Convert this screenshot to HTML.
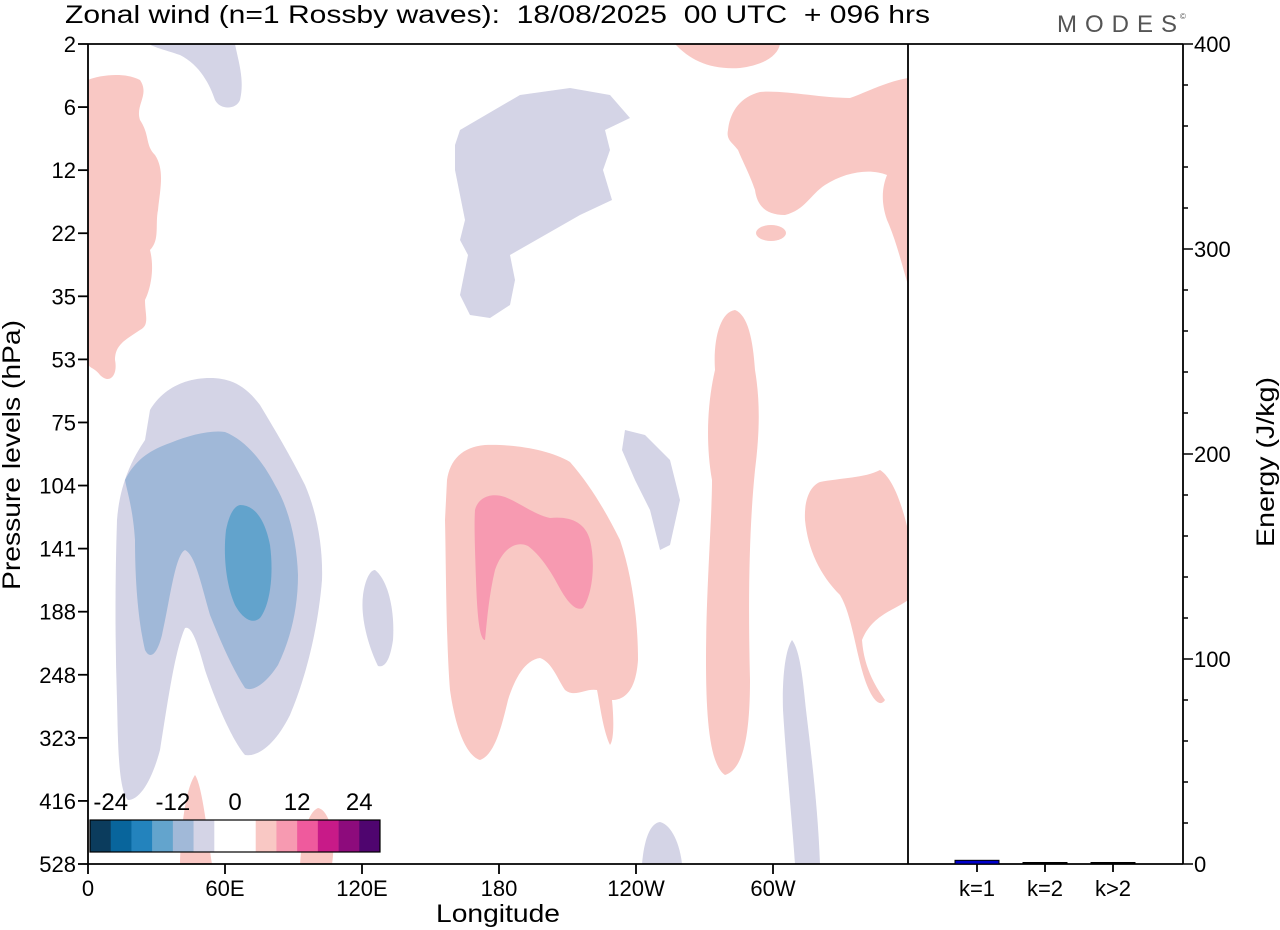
<!DOCTYPE html>
<html><head><meta charset="utf-8">
<style>
body{margin:0;background:#fff;}
svg{display:block;font-family:"Liberation Sans",Arial,sans-serif;}
</style></head>
<body>
<svg id="chart" width="1280" height="930" viewBox="0 0 1280 930">
<text x="65" y="23" font-size="25" style="white-space:pre" textLength="865" lengthAdjust="spacingAndGlyphs">Zonal wind (n=1 Rossby waves):  18/08/2025  00 UTC  + 096 hrs</text>
<text x="1057" y="32" font-size="24" fill="#555" letter-spacing="8">MODES</text>
<text x="1180" y="19" font-size="8" fill="#555">©</text>

<g id="contours">
<path fill="#d4d4e6" d="M150,44 L235,44 C238,60 245,80 240,100 C236,110 220,110 215,100 C210,85 200,65 180,55 C165,50 150,46 150,44 Z"/>
<path fill="#d4d4e6" d="M460,130 L520,95 L570,88 L610,95 L630,118 L605,130 L610,150 L603,170 L612,200 L580,215 L545,235 L510,255 L515,280 L510,305 L490,318 L470,315 L460,295 L465,270 L468,255 L460,240 L465,220 L460,195 L455,170 L455,145 Z"/>
<path fill="#d4d4e6" d="M625,430 L645,435 L670,460 L680,500 L670,545 L660,550 L650,510 L635,480 L622,450 Z"/>
<path fill="#d4d4e6" d="M375,570 C388,580 395,610 393,640 C390,660 385,668 378,666 C370,650 360,620 363,595 C365,580 370,570 375,570 Z"/>
<path fill="#d4d4e6" d="M642,864 C644,840 650,823 660,822 C672,825 680,845 682,864 Z"/>
<path fill="#d4d4e6" d="M792,640 C800,650 803,680 806,710 C812,760 818,810 820,864 L795,864 C792,820 786,760 783,710 C782,680 785,650 792,640 Z"/>
<path fill="#d4d4e6" d="M150,410 C165,385 190,378 210,378 C230,378 245,385 260,405 C275,430 290,455 305,485 C318,515 323,550 322,580 C318,630 305,680 290,715 C275,745 258,757 245,755 C232,740 215,700 205,670 C198,645 192,625 185,628 C175,650 168,700 160,750 C152,780 140,800 128,800 C118,790 118,740 117,700 C115,640 115,580 117,520 C120,480 135,455 145,440 Z"/>
<path fill="#a0b8d8" d="M125,480 C135,460 150,450 170,443 C190,435 210,430 225,432 C245,440 262,460 275,485 C290,510 297,545 298,575 C298,610 290,640 278,665 C265,685 252,692 245,688 C232,668 220,640 210,615 C200,580 195,555 185,550 C175,555 170,600 162,635 C157,655 150,660 145,650 C138,620 135,580 135,540 C133,510 128,495 125,480 Z"/>
<path fill="#62a3cc" d="M240,505 C255,505 265,520 270,545 C274,575 270,605 260,618 C252,625 242,618 235,605 C226,585 223,555 226,530 C229,515 234,506 240,505 Z"/>
<path fill="#f9c8c4" d="M88,80 C100,75 125,72 140,80 C150,95 135,105 140,120 C150,135 145,145 155,155 C165,170 160,190 158,210 C155,225 160,240 150,250 C155,270 150,290 145,300 C145,315 150,325 140,330 C125,340 115,345 115,360 C118,375 110,385 100,375 C92,365 88,370 88,360 Z"/>
<path fill="#f9c8c4" d="M675,44 L780,44 C778,55 765,65 740,68 C710,70 690,60 675,44 Z"/>
<path fill="#f9c8c4" d="M728,130 C730,112 740,97 760,92 C785,90 820,98 850,98 C865,93 885,82 908,78 L908,285 C902,265 896,240 887,220 C880,200 883,185 887,175 C870,168 845,172 825,185 C810,195 805,210 785,215 C765,215 757,205 755,190 C750,175 742,160 738,150 C732,142 726,140 728,130 Z"/>
<ellipse fill="#f9c8c4" cx="771" cy="233" rx="15" ry="8"/>
<path fill="#f9c8c4" d="M735,310 C748,315 753,340 755,370 C760,400 760,430 755,470 C749,530 748,600 750,680 C750,740 742,770 725,775 C710,765 706,720 706,660 C706,590 712,520 712,480 C705,440 708,400 715,370 C713,340 720,312 735,310 Z"/>
<path fill="#f9c8c4" d="M820,482 C840,478 865,478 880,470 C893,478 902,505 908,530 L908,600 C895,610 872,615 862,640 C864,670 878,690 885,700 C880,708 872,700 865,680 C855,650 852,615 840,595 C820,575 808,550 805,520 C804,500 810,486 820,482 Z"/>
<path fill="#f9c8c4" d="M447,480 C450,460 462,447 485,445 C515,444 550,450 570,462 C590,485 605,510 620,540 C632,575 638,620 638,660 C636,690 625,700 612,700 C614,720 614,740 610,745 C603,730 600,705 597,690 C585,688 575,698 565,690 C558,680 552,662 540,658 C525,660 515,678 508,700 C502,725 495,755 480,760 C465,755 455,725 450,690 C446,640 446,560 445,520 Z"/>
<path fill="#f79ab1" d="M475,510 C478,498 490,492 505,497 C520,503 535,515 550,518 C570,516 585,522 590,540 C596,565 592,595 583,608 C575,612 566,600 558,585 C550,570 540,555 528,546 C515,540 502,550 495,570 C489,595 487,620 485,640 C479,640 477,610 476,580 C475,550 474,525 475,510 Z"/>
<path fill="#f9c8c4" d="M180,864 C181,830 185,790 195,775 C202,785 207,830 212,864 Z"/>
<path fill="#f9c8c4" d="M300,864 C302,835 308,812 318,808 C330,810 336,840 332,864 Z"/>
</g>

<g id="colorbar"></g>

<g id="axes" stroke="#000" fill="none">
<path d="M88,44 L1183,44 M88,44 L88,864 L1183,864 M908,44 L908,864 M1183,44 L1183,864" stroke-width="1.8"/>
</g>
<g id="ticks" font-size="22" fill="#000"></g>
<g id="bars"></g>

<text transform="translate(20,455) rotate(-90)" text-anchor="middle" font-size="25" textLength="270" lengthAdjust="spacingAndGlyphs">Pressure levels (hPa)</text>
<text transform="translate(1274,462) rotate(-90)" text-anchor="middle" font-size="25" textLength="170" lengthAdjust="spacingAndGlyphs">Energy (J/kg)</text>
<text x="498" y="922" text-anchor="middle" font-size="25" textLength="124" lengthAdjust="spacingAndGlyphs">Longitude</text>
</svg>
<script>
const pressureLabels = ["2","6","12","22","35","53","75","104","141","188","248","323","416","528"];
const lonLabels = ["0","60E","120E","180","120W","60W"];
const energyTicks = [0,100,200,300,400];
const cbLabels = ["-24","-12","0","12","24"];
const cbColors = ["#0b3c5d","#08659c","#2383bd","#63a4cd","#a1b9d8","#d4d4e6","#ffffff","#ffffff","#f9c8c4","#f79ab1","#ef5a9d","#c81a88","#8d0b7c","#4f056f"];
const barCats = ["k=1","k=2","k>2"];
const barVals = [1.8,0.5,0.5];
const barColors = ["#0000cc","#000","#000"];

const NS="http://www.w3.org/2000/svg";
function mk(tag,attrs,parent){const e=document.createElementNS(NS,tag);for(const k in attrs)e.setAttribute(k,attrs[k]);parent.appendChild(e);return e;}
const yP=i=>44+i*(820/13);
const xL=i=>88+i*137;
const yE=v=>864-v*(820/400);
const xB=i=>977+i*68;
const ticks=document.getElementById('ticks');
pressureLabels.forEach((l,i)=>{
  const t=mk('line',{x1:78,x2:88,y1:yP(i),y2:yP(i),stroke:'#000','stroke-width':1.8},ticks);
  
  
  const tx=mk('text',{x:76,y:yP(i)+8,'text-anchor':'end'},ticks);tx.textContent=l;
  
  
});
lonLabels.forEach((l,i)=>{
  const t=mk('line',{x1:xL(i),x2:xL(i),y1:864,y2:874,stroke:'#000','stroke-width':1.8},ticks);
  
  
  const tx=mk('text',{x:xL(i),y:896,'text-anchor':'middle'},ticks);tx.textContent=l;
  
  
});
for(let v=0;v<=400;v+=20){
  const major=v%100===0;
  const t=mk('line',{x1:1183,x2:major?1193:1188,y1:yE(v),y2:yE(v),stroke:'#000','stroke-width':1.5},ticks);
  
  
}
energyTicks.forEach(v=>{
  const tx=mk('text',{x:1194,y:yE(v)+8},ticks);tx.textContent=v;
  
  
});
const bars=document.getElementById('bars');
barCats.forEach((c,i)=>{
  const h=Math.max(1.5,864-yE(barVals[i]));
  const r=mk('rect',{x:xB(i)-22,y:864-h,width:44,height:h,fill:barColors[i],stroke:'#000','stroke-width':1},bars);
  
  
  const t=mk('line',{x1:xB(i),x2:xB(i),y1:864,y2:872,stroke:'#000','stroke-width':1.8},bars);
  
  
  const tx=mk('text',{x:xB(i),y:896,'text-anchor':'middle','font-size':22},bars);tx.textContent=c;
  
  
});
const cb=document.getElementById('colorbar');
const cw=290/cbColors.length;
cbColors.forEach((c,i)=>{
  const r=mk('rect',{x:90+i*cw,y:820,width:cw+0.3,height:32,fill:c},cb);
  
  
});
const fr=mk('rect',{x:90,y:820,width:290,height:32,fill:'none',stroke:'#000','stroke-width':1.2},cb);


cbLabels.forEach((l,i)=>{
  const tx=mk('text',{x:90+(i*3+1)*cw,y:810,'text-anchor':'middle','font-size':24},cb);tx.textContent=l;
  
  
});
</script>
</body></html>
